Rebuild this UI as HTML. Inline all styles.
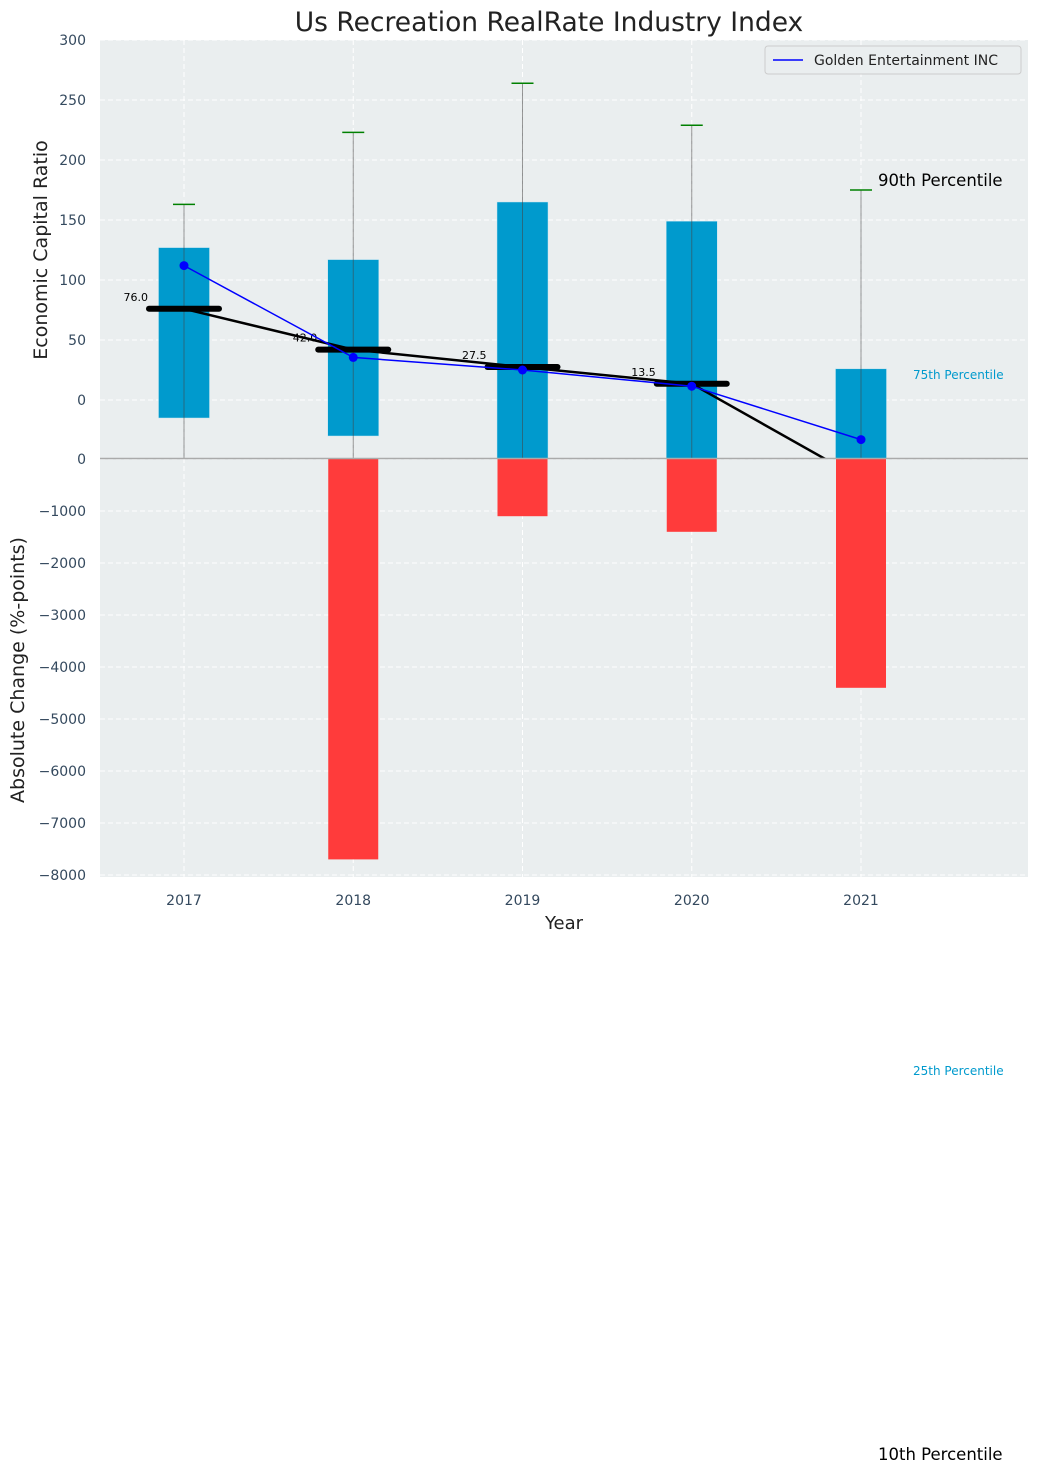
<!DOCTYPE html>
<html><head><meta charset="utf-8"><style>body{margin:0;background:#fff}svg text{font-family:"DejaVu Sans","Liberation Sans",sans-serif}</style></head>
<body>
<svg id="c" width="1039" height="1473" xmlns="http://www.w3.org/2000/svg"></svg>
<script>
const years=["2017","2018","2019","2020","2021"];
const q75=[127,117,165,149,26];
const q25=[-15,-30,-55,-55,-55];
const p90=[163,223,264,229,175];
const medians=[76,42,27.5,13.5,-66];
const medianLabels=["76.0","42.0","27.5","13.5",""];
const company=[112,35.5,25,11.5,-33];
const absChange=[0,-7700,-1100,-1400,-4400];
const topTicks=[300,250,200,150,100,50,0];
const botTicks=[0,-1000,-2000,-3000,-4000,-5000,-6000,-7000,-8000];
const NS="http://www.w3.org/2000/svg";
const svg=document.getElementById('c');
const L=100,R=1028,T1=40,B1=458,T2=458,B2=877;
const x=i=>184+i*169.25;
const yT=v=>400-v*1.2;
const yB=v=>459-v*0.052;
const fmt=v=>String(v).replace('-','\u2212');
function mk(t,a,p){const e=document.createElementNS(NS,t);for(const k in a)e.setAttribute(k,a[k]);(p||svg).appendChild(e);return e;}
let e;
e=mk('rect',{x:L,y:T1,width:R-L,height:B2-T1,fill:'#eaeeef'});


const clipT=mk('clipPath',{id:'ct'});mk('rect',{x:L,y:T1,width:R-L,height:B1-T1},clipT);
const clipB=mk('clipPath',{id:'cb'});mk('rect',{x:L,y:T2,width:R-L,height:B2-T2},clipB);
const gT=mk('g',{'clip-path':'url(#ct)'});


const gB=mk('g',{'clip-path':'url(#cb)'});


topTicks.forEach(v=>{mk('line',{x1:L,x2:R,y1:yT(v),y2:yT(v),stroke:'#fff','stroke-dasharray':'5,3','stroke-width':1},gT);
 e=mk('text',{x:86,y:yT(v)+5,'text-anchor':'end','font-size':14,fill:'#34495e'});e.textContent=fmt(v);
 
 });
botTicks.forEach(v=>{mk('line',{x1:L,x2:R,y1:yB(v),y2:yB(v),stroke:'#fff','stroke-dasharray':'5,3','stroke-width':1},gB);
 e=mk('text',{x:86,y:yB(v)+5,'text-anchor':'end','font-size':14,fill:'#34495e'});e.textContent=fmt(v);
 
 });
years.forEach((yr,i)=>{
 mk('line',{x1:x(i),x2:x(i),y1:T1,y2:B1,stroke:'#fff','stroke-dasharray':'5,3'},gT);
 mk('line',{x1:x(i),x2:x(i),y1:T2,y2:B2,stroke:'#fff','stroke-dasharray':'5,3'},gB);
 e=mk('text',{x:x(i),y:905,'text-anchor':'middle','font-size':14,fill:'#34495e'});e.textContent=yr;
 
 });
years.forEach((yr,i)=>{
 e=mk('rect',{x:x(i)-25.5,y:yT(q75[i]),width:51,height:yT(q25[i])-yT(q75[i]),fill:'#009acd',stroke:'#bfe3f0','stroke-width':0.5},gT);
 
 
 e=mk('line',{x1:x(i),x2:x(i),y1:yT(p90[i]),y2:B1,stroke:'#444','stroke-opacity':0.55,'stroke-width':1},gT);
 
 
 e=mk('line',{x1:x(i)-11,x2:x(i)+11,y1:yT(p90[i]),y2:yT(p90[i]),stroke:'green','stroke-width':1.5},gT);
 
 
});
e=mk('polyline',{points:medians.map((m,i)=>x(i)+','+yT(m)).join(' '),fill:'none',stroke:'#000','stroke-width':2.5},gT);


medians.forEach((m,i)=>{
 e=mk('line',{x1:x(i)-35,x2:x(i)+35,y1:yT(m),y2:yT(m),stroke:'#000','stroke-width':6,'stroke-linecap':'round'},gT);
 
 
 if(medianLabels[i]){e=mk('text',{x:x(i)-36,y:yT(m)-8,'text-anchor':'end','font-size':11,fill:'#000'},gT);e.textContent=medianLabels[i];
 
 }
});
e=mk('polyline',{points:company.map((m,i)=>x(i)+','+yT(m)).join(' '),fill:'none',stroke:'#0000ff','stroke-width':1.5},gT);


company.forEach((m,i)=>{e=mk('circle',{cx:x(i),cy:yT(m),r:4.5,fill:'#0000ff'},gT);
 
 });
absChange.forEach((v,i)=>{if(v===0)return;
 e=mk('rect',{x:x(i)-25,y:yB(0),width:50,height:yB(v)-yB(0),fill:'#ff3b3b'},gB);
 
 });
mk('line',{x1:L,x2:R,y1:458.5,y2:458.5,stroke:'#aaa','stroke-width':1.5});
function txt(s,a,name){e=mk('text',a);e.textContent=s;return e;}
txt('Us Recreation RealRate Industry Index',{x:549,y:31,'text-anchor':'middle','font-size':26.5,fill:'#222'},'chart-title');
txt('Year',{x:564,y:929,'text-anchor':'middle','font-size':18,fill:'#222'},'x-axis-title');
txt('Economic Capital Ratio',{x:47,y:250,'text-anchor':'middle','font-size':19,fill:'#222',transform:'rotate(-90 47 250)'},'top-y-axis-title');
txt('Absolute Change (%-points)',{x:24,y:670,'text-anchor':'middle','font-size':19,fill:'#222',transform:'rotate(-90 24 670)'},'bottom-y-axis-title');
txt('90th Percentile',{x:878,y:186,'font-size':16.5,fill:'#000'},'p90-annotation');
txt('75th Percentile',{x:913,y:379,'font-size':12,fill:'#009acd'},'p75-annotation');
txt('25th Percentile',{x:913,y:1075,'font-size':12,fill:'#009acd'},'p25-annotation');
txt('10th Percentile',{x:878,y:1460,'font-size':16.5,fill:'#000'},'p10-annotation');
const lg=mk('g',{});


mk('rect',{x:765,y:46,width:256,height:28,rx:3,fill:'#eaeeef',stroke:'#ccc'},lg);
mk('line',{x1:773,x2:803,y1:60,y2:60,stroke:'#0000ff','stroke-width':1.5},lg);
e=mk('text',{x:814,y:65,'font-size':14,fill:'#222'},lg);e.textContent='Golden Entertainment INC';


</script>
</body></html>
